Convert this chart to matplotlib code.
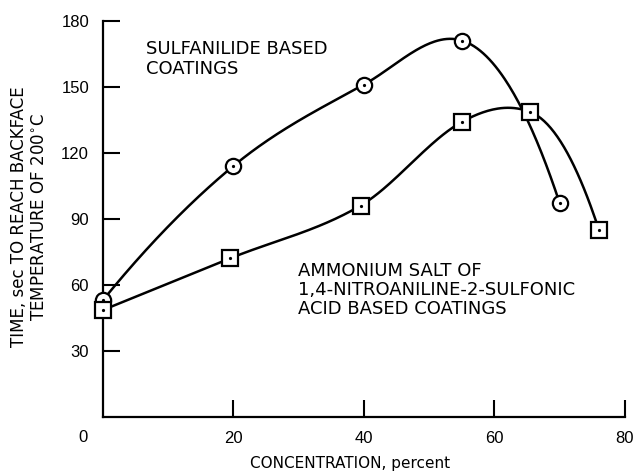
import numpy as np
import matplotlib
matplotlib.use("Agg")
import matplotlib.pyplot as plt
import matplotlib.transforms as mtransforms

plt.rcParams["font.family"] = ["Liberation Sans", "DejaVu Sans"]

# Data
sulf_x = [0, 20, 40, 55, 70]
sulf_y = [53, 114, 151, 171, 97]

amm_x = [0, 19.5, 39.5, 55, 65.5, 76]
amm_y = [48.5, 72, 96, 134, 138.5, 85]

x_ticks = [20, 40, 60, 80]
y_ticks = [30, 60, 90, 120, 150, 180]


def smooth(x, y, n=300):
    # cubic hermite curve with catmull-rom tangents (softened at peaks),
    # parabolic ends
    x = np.asarray(x, float)
    y = np.asarray(y, float)
    h = np.diff(x)
    d = np.diff(y) / h
    m = np.zeros_like(y)
    m[1:-1] = (y[2:] - y[:-2]) / (x[2:] - x[:-2])
    peak = np.zeros(len(x), bool)
    peak[1:-1] = d[:-1] * d[1:] <= 0
    m[peak] *= 0.5
    m[0] = 2 * d[0] - m[1]
    m[-1] = 2 * d[-1] - m[-2]
    xs = np.linspace(x[0], x[-1], n)
    idx = np.clip(np.searchsorted(x, xs) - 1, 0, len(x) - 2)
    t = (xs - x[idx]) / h[idx]
    h00 = 2 * t**3 - 3 * t**2 + 1
    h10 = t**3 - 2 * t**2 + t
    h01 = -2 * t**3 + 3 * t**2
    h11 = t**3 - t**2
    ys = h00 * y[idx] + h10 * h[idx] * m[idx] + h01 * y[idx + 1] + h11 * h[idx] * m[idx + 1]
    return xs, ys


fig = plt.figure(figsize=(6.38, 4.73), dpi=100)
ax = fig.add_axes([0.1614, 0.1190, 0.8182, 0.8372])

for xd, yd, mk, ms in [(sulf_x, sulf_y, "o", 11), (amm_x, amm_y, "s", 11.5)]:
    xs, ys = smooth(xd, yd)
    ax.plot(xs, ys, color="black", lw=1.8, clip_on=False, zorder=2)
    ax.plot(xd, yd, mk, ms=ms, mfc="white", mec="black", mew=1.6,
            clip_on=False, zorder=3)
    ax.plot(xd, yd, "o", ms=1.3, color="black", clip_on=False, zorder=4)

ax.set_xlim(0, 80)
ax.set_ylim(0, 180)
ax.spines["top"].set_visible(False)
ax.spines["right"].set_visible(False)
ax.spines["left"].set_linewidth(1.6)
ax.spines["bottom"].set_linewidth(1.6)

ax.set_xticks(x_ticks)
ax.set_yticks(y_ticks)
ax.tick_params(direction="in", length=12, width=1.5, labelsize=12, pad=10)

# origin label sits a little left of the spine
ax.text(-3, -0.052, "0", transform=mtransforms.blended_transform_factory(ax.transData, ax.transAxes),
        ha="center", va="center", fontsize=12)

lab_font = ["DejaVu Sans"]
ax.set_xlabel("CONCENTRATION, percent", fontsize=11, family=lab_font)
ax.xaxis.set_label_coords(0.474, -0.1)
ax.set_ylabel("TIME, sec TO REACH BACKFACE\nTEMPERATURE OF 200$^{\\circ}$C",
              fontsize=12, linespacing=1.15, family=lab_font)
ax.yaxis.set_label_coords(-0.105, 0.505)

ax.text(6.6, 162.6, "SULFANILIDE BASED\nCOATINGS", fontsize=13, va="center",
        linespacing=1.1, family=lab_font)
ax.text(29.9, 57.6, "AMMONIUM SALT OF\n1,4-NITROANILINE-2-SULFONIC\nACID BASED COATINGS",
        fontsize=13, va="center", linespacing=1.1, family=lab_font)

fig.savefig("out.png", dpi=100)
